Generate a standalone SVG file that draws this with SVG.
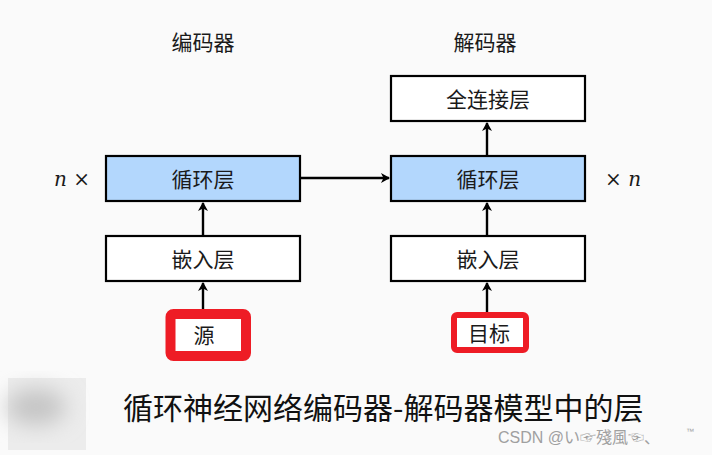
<svg xmlns="http://www.w3.org/2000/svg" width="712" height="455" viewBox="0 0 712 455">
<defs>
<style>
.box{fill:#fff;stroke:#000;stroke-width:2.2}
.rnn{fill:#b3d7fd;stroke:#000;stroke-width:2.2}
.red{fill:#fff;stroke:#ee1c25}
.t{font-family:"Noto Sans CJK SC","Noto Sans",sans-serif;font-size:21px;fill:#1a1a1a;text-anchor:middle;dominant-baseline:central}
.m{font-family:"DejaVu Serif","Liberation Serif",serif;font-size:20px;fill:#1a1a1a;dominant-baseline:central}
.conn{stroke:#000;stroke-width:2.4;fill:none;marker-end:url(#ah)}
</style>
<marker id="ah" markerWidth="10" markerHeight="10" refX="8" refY="5" orient="auto" markerUnits="userSpaceOnUse">
<path d="M0,0 L9,5 L0,10 L2.5,5 Z" fill="#000"/>
</marker>
<filter id="blur" x="-50%" y="-50%" width="200%" height="200%"><feGaussianBlur stdDeviation="11"/></filter>
</defs>
<rect width="712" height="455" fill="#fafafa"/>
<g id="blurpatch">
<rect x="8" y="378" width="78" height="72" fill="#ececec"/>
<ellipse cx="36" cy="407" rx="30" ry="18" fill="#c4c4c4" filter="url(#blur)"/>
</g>
<g id="enc-label"><text class="t" x="203" y="41">编码器</text></g>
<g id="dec-label"><text class="t" x="485" y="41">解码器</text></g>
<g id="enc-n"><text class="m" x="54" y="179"><tspan font-style="italic">n</tspan> ×</text></g>
<g id="dec-n"><text class="m" x="605" y="179">× <tspan font-style="italic">n</tspan></text></g>
<g id="enc-rnn"><rect class="rnn" x="106" y="156" width="194" height="45"/><text class="t" x="203" y="178">循环层</text></g>
<g id="enc-emb"><rect class="box" x="106" y="236" width="194" height="45"/><text class="t" x="203" y="258">嵌入层</text></g>
<g id="src"><rect class="red" x="170.5" y="314" width="75.5" height="42" rx="3" stroke-width="10"/><text class="t" x="204" y="334">源</text></g>
<g id="dec-fc"><rect class="box" x="391" y="76" width="194" height="45"/><text class="t" x="488" y="98">全连接层</text></g>
<g id="dec-rnn"><rect class="rnn" x="391" y="156" width="194" height="45"/><text class="t" x="488" y="178">循环层</text></g>
<g id="dec-emb"><rect class="box" x="391" y="236" width="194" height="45"/><text class="t" x="488" y="258">嵌入层</text></g>
<g id="tgt"><rect class="red" x="454" y="315" width="72" height="35" rx="3" stroke-width="6"/><text class="t" x="489" y="332">目标</text></g>
<g id="connectors">
<line class="conn" x1="203" y1="309" x2="203" y2="283"/>
<line class="conn" x1="203" y1="236" x2="203" y2="203"/>
<line class="conn" x1="300" y1="178" x2="389" y2="178"/>
<line class="conn" x1="487" y1="312" x2="487" y2="283"/>
<line class="conn" x1="487" y1="236" x2="487" y2="203"/>
<line class="conn" x1="487" y1="156" x2="487" y2="123"/>
</g>
<g id="caption"><text x="123" y="419" font-family="Noto Sans CJK SC,sans-serif" font-size="30" fill="#111">循环神经网络编码器-解码器模型中的层</text></g>
<g id="watermark"><text x="498" y="443" font-family="Liberation Sans,Noto Sans CJK SC,sans-serif" font-size="16" fill="#a0a0a0">CSDN @い☞殘風☜、</text><text x="686" y="434" font-family="Liberation Sans,sans-serif" font-size="8" fill="#a0a0a0">™</text></g>
</svg>
